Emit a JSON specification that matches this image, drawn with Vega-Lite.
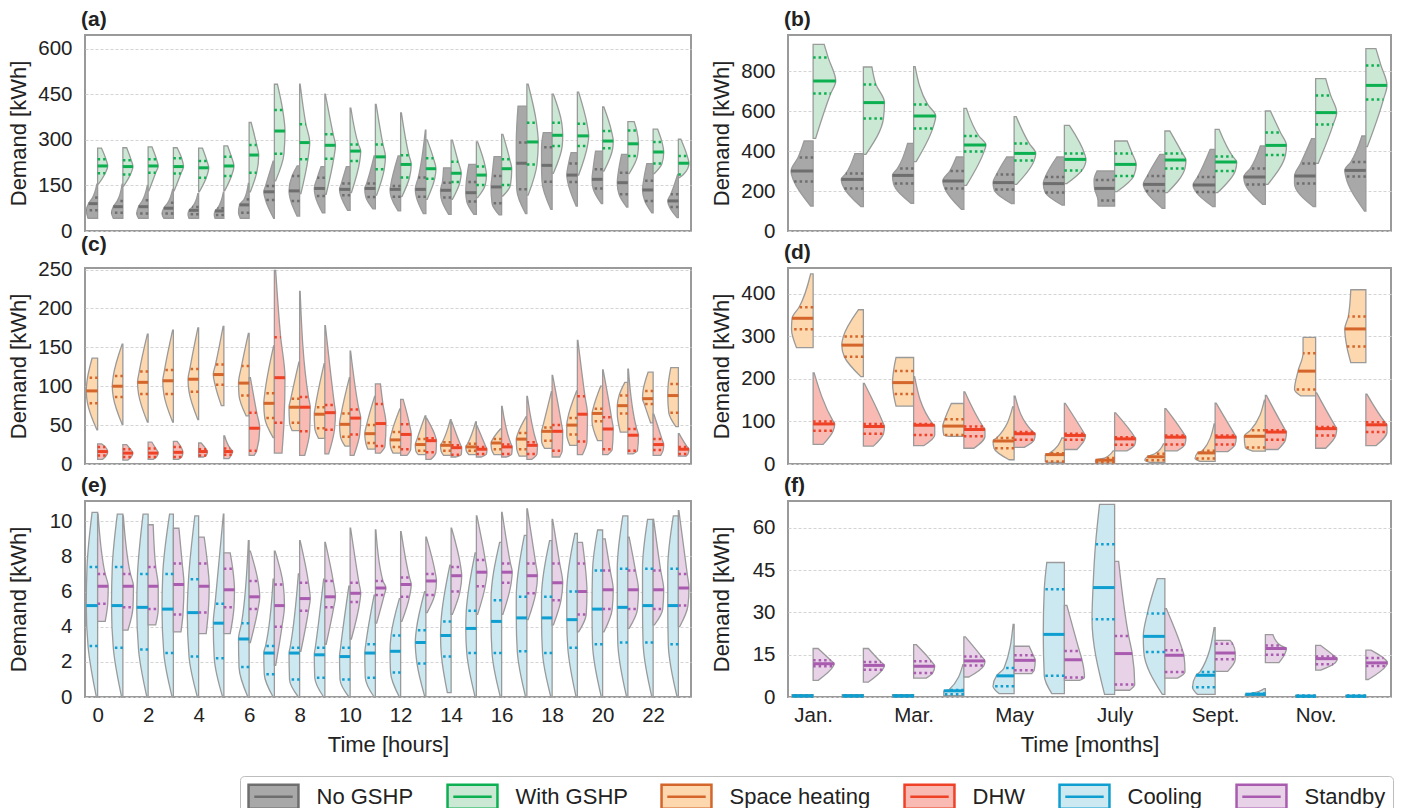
{
"$schema":"https://vega.github.io/schema/vega-lite/v6.json",
"background":"white",
"padding":{"left":5,"top":8,"right":4,"bottom":0},
"config":{
 "font":"Liberation Sans",
 "view":{"stroke":"#9a9a9a","strokeWidth":2},
 "title":{"fontSize":21,"fontWeight":"bold","anchor":"start","frame":"group","dx":-4,"offset":5,"color":"#222"},
 "axis":{"labelFontSize":20.5,"titleFontSize":22,"titleFontWeight":"normal","labelColor":"#222","titleColor":"#222","domain":false,"ticks":false,"grid":false},
 "axisY":{"grid":true,"gridColor":"#d4d4d4","gridDash":[3,2],"gridWidth":1,"labelPadding":13,"titleX":-60,"titleY":98,"titleBaseline":"alphabetic"},
 "axisX":{"labelPadding":8,"titlePadding":9,"labelAngle":0},
 "legend":{"labelFontSize":22,"labelColor":"#222","labelOffset":29.5,"columnPadding":28,"padding":7,"strokeColor":"#bdbdbd","cornerRadius":4,"symbolType":"M-2.08,-1H2.08V1H-2.08Z M-1.6,0H1.6","symbolSize":576,"symbolOffset":13,"symbolStrokeWidth":2.5,"symbolOpacity":1,"labelLimit":300}
},
"columns":2,
"bounds":"flush",
"spacing":{"row":37,"column":97},
"resolve":{"scale":{"x":"independent","y":"independent","fill":"shared","stroke":"shared"}},
"datasets":{
"a":[
{"h":0,"s":"N","k":0,"v":42,"d":0.38},{"h":0,"s":"N","k":1,"v":68,"d":0.45},{"h":0,"s":"N","k":2,"v":90,"d":0.36},{"h":0,"s":"N","k":3,"v":110,"d":0.2},{"h":0,"s":"N","k":4,"v":154,"d":0.03},
{"h":0,"s":"G","k":0,"v":154,"d":0.03},{"h":0,"s":"G","k":1,"v":190,"d":0.3},{"h":0,"s":"G","k":2,"v":214,"d":0.4},{"h":0,"s":"G","k":3,"v":236,"d":0.33},{"h":0,"s":"G","k":4,"v":273,"d":0.15},
{"h":1,"s":"N","k":0,"v":42,"d":0.38},{"h":1,"s":"N","k":1,"v":60,"d":0.45},{"h":1,"s":"N","k":2,"v":80,"d":0.38},{"h":1,"s":"N","k":3,"v":99,"d":0.22},{"h":1,"s":"N","k":4,"v":154,"d":0.03},
{"h":1,"s":"G","k":0,"v":148,"d":0.03},{"h":1,"s":"G","k":1,"v":186,"d":0.3},{"h":1,"s":"G","k":2,"v":212,"d":0.4},{"h":1,"s":"G","k":3,"v":233,"d":0.33},{"h":1,"s":"G","k":4,"v":274,"d":0.15},
{"h":2,"s":"N","k":0,"v":42,"d":0.38},{"h":2,"s":"N","k":1,"v":58,"d":0.45},{"h":2,"s":"N","k":2,"v":80,"d":0.38},{"h":2,"s":"N","k":3,"v":101,"d":0.22},{"h":2,"s":"N","k":4,"v":150,"d":0.03},
{"h":2,"s":"G","k":0,"v":132,"d":0.03},{"h":2,"s":"G","k":1,"v":192,"d":0.3},{"h":2,"s":"G","k":2,"v":214,"d":0.4},{"h":2,"s":"G","k":3,"v":236,"d":0.33},{"h":2,"s":"G","k":4,"v":277,"d":0.15},
{"h":3,"s":"N","k":0,"v":42,"d":0.38},{"h":3,"s":"N","k":1,"v":58,"d":0.45},{"h":3,"s":"N","k":2,"v":75,"d":0.38},{"h":3,"s":"N","k":3,"v":93,"d":0.22},{"h":3,"s":"N","k":4,"v":137,"d":0.03},
{"h":3,"s":"G","k":0,"v":132,"d":0.03},{"h":3,"s":"G","k":1,"v":189,"d":0.3},{"h":3,"s":"G","k":2,"v":212,"d":0.4},{"h":3,"s":"G","k":3,"v":239,"d":0.33},{"h":3,"s":"G","k":4,"v":274,"d":0.15},
{"h":4,"s":"N","k":0,"v":42,"d":0.38},{"h":4,"s":"N","k":1,"v":55,"d":0.42},{"h":4,"s":"N","k":2,"v":68,"d":0.38},{"h":4,"s":"N","k":3,"v":79,"d":0.25},{"h":4,"s":"N","k":4,"v":123,"d":0.03},
{"h":4,"s":"G","k":0,"v":129,"d":0.03},{"h":4,"s":"G","k":1,"v":175,"d":0.3},{"h":4,"s":"G","k":2,"v":208,"d":0.4},{"h":4,"s":"G","k":3,"v":230,"d":0.33},{"h":4,"s":"G","k":4,"v":273,"d":0.15},
{"h":5,"s":"N","k":0,"v":42,"d":0.35},{"h":5,"s":"N","k":1,"v":53,"d":0.38},{"h":5,"s":"N","k":2,"v":66,"d":0.35},{"h":5,"s":"N","k":3,"v":75,"d":0.25},{"h":5,"s":"N","k":4,"v":128,"d":0.02},
{"h":5,"s":"G","k":0,"v":132,"d":0.03},{"h":5,"s":"G","k":1,"v":181,"d":0.3},{"h":5,"s":"G","k":2,"v":214,"d":0.4},{"h":5,"s":"G","k":3,"v":244,"d":0.3},{"h":5,"s":"G","k":4,"v":280,"d":0.15},
{"h":6,"s":"N","k":0,"v":42,"d":0.35},{"h":6,"s":"N","k":1,"v":60,"d":0.42},{"h":6,"s":"N","k":2,"v":86,"d":0.38},{"h":6,"s":"N","k":3,"v":104,"d":0.2},{"h":6,"s":"N","k":4,"v":157,"d":0.03},
{"h":6,"s":"G","k":0,"v":129,"d":0.05},{"h":6,"s":"G","k":1,"v":192,"d":0.3},{"h":6,"s":"G","k":2,"v":250,"d":0.38},{"h":6,"s":"G","k":3,"v":283,"d":0.3},{"h":6,"s":"G","k":4,"v":357,"d":0.08},
{"h":7,"s":"N","k":0,"v":42,"d":0.03},{"h":7,"s":"N","k":1,"v":102,"d":0.35},{"h":7,"s":"N","k":2,"v":129,"d":0.42},{"h":7,"s":"N","k":3,"v":148,"d":0.35},{"h":7,"s":"N","k":4,"v":230,"d":0.05},
{"h":7,"s":"G","k":0,"v":165,"d":0.05},{"h":7,"s":"G","k":1,"v":254,"d":0.38},{"h":7,"s":"G","k":2,"v":329,"d":0.42},{"h":7,"s":"G","k":3,"v":398,"d":0.33},{"h":7,"s":"G","k":4,"v":483,"d":0.12},
{"h":8,"s":"N","k":0,"v":49,"d":0.1},{"h":8,"s":"N","k":1,"v":99,"d":0.35},{"h":8,"s":"N","k":2,"v":132,"d":0.42},{"h":8,"s":"N","k":3,"v":181,"d":0.3},{"h":8,"s":"N","k":4,"v":214,"d":0.1},
{"h":8,"s":"G","k":0,"v":123,"d":0.05},{"h":8,"s":"G","k":1,"v":236,"d":0.33},{"h":8,"s":"G","k":2,"v":291,"d":0.4},{"h":8,"s":"G","k":3,"v":351,"d":0.25},{"h":8,"s":"G","k":4,"v":483,"d":0.02},
{"h":9,"s":"N","k":0,"v":60,"d":0.1},{"h":9,"s":"N","k":1,"v":115,"d":0.38},{"h":9,"s":"N","k":2,"v":140,"d":0.42},{"h":9,"s":"N","k":3,"v":175,"d":0.3},{"h":9,"s":"N","k":4,"v":212,"d":0.15},
{"h":9,"s":"G","k":0,"v":121,"d":0.05},{"h":9,"s":"G","k":1,"v":238,"d":0.35},{"h":9,"s":"G","k":2,"v":282,"d":0.42},{"h":9,"s":"G","k":3,"v":318,"d":0.33},{"h":9,"s":"G","k":4,"v":450,"d":0.02},
{"h":10,"s":"N","k":0,"v":68,"d":0.1},{"h":10,"s":"N","k":1,"v":118,"d":0.38},{"h":10,"s":"N","k":2,"v":137,"d":0.42},{"h":10,"s":"N","k":3,"v":156,"d":0.35},{"h":10,"s":"N","k":4,"v":212,"d":0.15},
{"h":10,"s":"G","k":0,"v":126,"d":0.05},{"h":10,"s":"G","k":1,"v":230,"d":0.38},{"h":10,"s":"G","k":2,"v":263,"d":0.42},{"h":10,"s":"G","k":3,"v":285,"d":0.33},{"h":10,"s":"G","k":4,"v":404,"d":0.03},
{"h":11,"s":"N","k":0,"v":73,"d":0.1},{"h":11,"s":"N","k":1,"v":112,"d":0.38},{"h":11,"s":"N","k":2,"v":140,"d":0.42},{"h":11,"s":"N","k":3,"v":156,"d":0.35},{"h":11,"s":"N","k":4,"v":247,"d":0.05},
{"h":11,"s":"G","k":0,"v":118,"d":0.05},{"h":11,"s":"G","k":1,"v":203,"d":0.35},{"h":11,"s":"G","k":2,"v":244,"d":0.4},{"h":11,"s":"G","k":3,"v":285,"d":0.3},{"h":11,"s":"G","k":4,"v":417,"d":0.03},
{"h":12,"s":"N","k":0,"v":66,"d":0.1},{"h":12,"s":"N","k":1,"v":113,"d":0.38},{"h":12,"s":"N","k":2,"v":137,"d":0.42},{"h":12,"s":"N","k":3,"v":148,"d":0.4},{"h":12,"s":"N","k":4,"v":247,"d":0.1},
{"h":12,"s":"G","k":0,"v":113,"d":0.05},{"h":12,"s":"G","k":1,"v":176,"d":0.35},{"h":12,"s":"G","k":2,"v":219,"d":0.42},{"h":12,"s":"G","k":3,"v":249,"d":0.33},{"h":12,"s":"G","k":4,"v":389,"d":0.03},
{"h":13,"s":"N","k":0,"v":57,"d":0.1},{"h":13,"s":"N","k":1,"v":113,"d":0.38},{"h":13,"s":"N","k":2,"v":137,"d":0.42},{"h":13,"s":"N","k":3,"v":176,"d":0.3},{"h":13,"s":"N","k":4,"v":332,"d":0.02},
{"h":13,"s":"G","k":0,"v":104,"d":0.05},{"h":13,"s":"G","k":1,"v":172,"d":0.35},{"h":13,"s":"G","k":2,"v":205,"d":0.4},{"h":13,"s":"G","k":3,"v":239,"d":0.3},{"h":13,"s":"G","k":4,"v":300,"d":0.05},
{"h":14,"s":"N","k":0,"v":55,"d":0.1},{"h":14,"s":"N","k":1,"v":110,"d":0.4},{"h":14,"s":"N","k":2,"v":134,"d":0.42},{"h":14,"s":"N","k":3,"v":159,"d":0.35},{"h":14,"s":"N","k":4,"v":208,"d":0.3},
{"h":14,"s":"G","k":0,"v":104,"d":0.05},{"h":14,"s":"G","k":1,"v":161,"d":0.35},{"h":14,"s":"G","k":2,"v":190,"d":0.4},{"h":14,"s":"G","k":3,"v":228,"d":0.28},{"h":14,"s":"G","k":4,"v":299,"d":0.05},
{"h":15,"s":"N","k":0,"v":55,"d":0.1},{"h":15,"s":"N","k":1,"v":97,"d":0.38},{"h":15,"s":"N","k":2,"v":126,"d":0.42},{"h":15,"s":"N","k":3,"v":161,"d":0.4},{"h":15,"s":"N","k":4,"v":219,"d":0.3},
{"h":15,"s":"G","k":0,"v":110,"d":0.05},{"h":15,"s":"G","k":1,"v":151,"d":0.35},{"h":15,"s":"G","k":2,"v":184,"d":0.4},{"h":15,"s":"G","k":3,"v":212,"d":0.35},{"h":15,"s":"G","k":4,"v":293,"d":0.05},
{"h":16,"s":"N","k":0,"v":53,"d":0.1},{"h":16,"s":"N","k":1,"v":91,"d":0.38},{"h":16,"s":"N","k":2,"v":145,"d":0.42},{"h":16,"s":"N","k":3,"v":181,"d":0.38},{"h":16,"s":"N","k":4,"v":245,"d":0.3},
{"h":16,"s":"G","k":0,"v":115,"d":0.05},{"h":16,"s":"G","k":1,"v":151,"d":0.35},{"h":16,"s":"G","k":2,"v":205,"d":0.4},{"h":16,"s":"G","k":3,"v":236,"d":0.32},{"h":16,"s":"G","k":4,"v":318,"d":0.05},
{"h":17,"s":"N","k":0,"v":57,"d":0.05},{"h":17,"s":"N","k":1,"v":137,"d":0.4},{"h":17,"s":"N","k":2,"v":223,"d":0.42},{"h":17,"s":"N","k":3,"v":291,"d":0.42},{"h":17,"s":"N","k":4,"v":411,"d":0.35},
{"h":17,"s":"G","k":0,"v":118,"d":0.05},{"h":17,"s":"G","k":1,"v":219,"d":0.4},{"h":17,"s":"G","k":2,"v":293,"d":0.45},{"h":17,"s":"G","k":3,"v":356,"d":0.38},{"h":17,"s":"G","k":4,"v":483,"d":0.05},
{"h":18,"s":"N","k":0,"v":71,"d":0.05},{"h":18,"s":"N","k":1,"v":162,"d":0.4},{"h":18,"s":"N","k":2,"v":216,"d":0.42},{"h":18,"s":"N","k":3,"v":276,"d":0.42},{"h":18,"s":"N","k":4,"v":324,"d":0.35},
{"h":18,"s":"G","k":0,"v":190,"d":0.05},{"h":18,"s":"G","k":1,"v":280,"d":0.4},{"h":18,"s":"G","k":2,"v":315,"d":0.42},{"h":18,"s":"G","k":3,"v":356,"d":0.38},{"h":18,"s":"G","k":4,"v":450,"d":0.05},
{"h":19,"s":"N","k":0,"v":82,"d":0.05},{"h":19,"s":"N","k":1,"v":161,"d":0.38},{"h":19,"s":"N","k":2,"v":184,"d":0.42},{"h":19,"s":"N","k":3,"v":222,"d":0.35},{"h":19,"s":"N","k":4,"v":258,"d":0.25},
{"h":19,"s":"G","k":0,"v":184,"d":0.05},{"h":19,"s":"G","k":1,"v":280,"d":0.4},{"h":19,"s":"G","k":2,"v":313,"d":0.45},{"h":19,"s":"G","k":3,"v":353,"d":0.38},{"h":19,"s":"G","k":4,"v":457,"d":0.05},
{"h":20,"s":"N","k":0,"v":90,"d":0.05},{"h":20,"s":"N","k":1,"v":140,"d":0.38},{"h":20,"s":"N","k":2,"v":170,"d":0.42},{"h":20,"s":"N","k":3,"v":203,"d":0.38},{"h":20,"s":"N","k":4,"v":263,"d":0.28},
{"h":20,"s":"G","k":0,"v":197,"d":0.05},{"h":20,"s":"G","k":1,"v":272,"d":0.4},{"h":20,"s":"G","k":2,"v":296,"d":0.42},{"h":20,"s":"G","k":3,"v":329,"d":0.35},{"h":20,"s":"G","k":4,"v":408,"d":0.05},
{"h":21,"s":"N","k":0,"v":79,"d":0.05},{"h":21,"s":"N","k":1,"v":121,"d":0.35},{"h":21,"s":"N","k":2,"v":159,"d":0.42},{"h":21,"s":"N","k":3,"v":192,"d":0.38},{"h":21,"s":"N","k":4,"v":252,"d":0.25},
{"h":21,"s":"G","k":0,"v":189,"d":0.05},{"h":21,"s":"G","k":1,"v":247,"d":0.38},{"h":21,"s":"G","k":2,"v":287,"d":0.42},{"h":21,"s":"G","k":3,"v":331,"d":0.35},{"h":21,"s":"G","k":4,"v":360,"d":0.25},
{"h":22,"s":"N","k":0,"v":60,"d":0.05},{"h":22,"s":"N","k":1,"v":99,"d":0.33},{"h":22,"s":"N","k":2,"v":135,"d":0.42},{"h":22,"s":"N","k":3,"v":165,"d":0.38},{"h":22,"s":"N","k":4,"v":222,"d":0.25},
{"h":22,"s":"G","k":0,"v":189,"d":0.05},{"h":22,"s":"G","k":1,"v":222,"d":0.35},{"h":22,"s":"G","k":2,"v":260,"d":0.42},{"h":22,"s":"G","k":3,"v":293,"d":0.35},{"h":22,"s":"G","k":4,"v":335,"d":0.18},
{"h":23,"s":"N","k":0,"v":44,"d":0.05},{"h":23,"s":"N","k":1,"v":79,"d":0.35},{"h":23,"s":"N","k":2,"v":99,"d":0.42},{"h":23,"s":"N","k":3,"v":121,"d":0.3},{"h":23,"s":"N","k":4,"v":186,"d":0.03},
{"h":23,"s":"G","k":0,"v":176,"d":0.05},{"h":23,"s":"G","k":1,"v":186,"d":0.2},{"h":23,"s":"G","k":2,"v":223,"d":0.42},{"h":23,"s":"G","k":3,"v":247,"d":0.35},{"h":23,"s":"G","k":4,"v":302,"d":0.1}
],
"b":[
{"h":1,"s":"N","k":0,"v":125,"d":0.05},{"h":1,"s":"N","k":1,"v":247,"d":0.38},{"h":1,"s":"N","k":2,"v":300,"d":0.44},{"h":1,"s":"N","k":3,"v":367,"d":0.3},{"h":1,"s":"N","k":4,"v":450,"d":0.18},
{"h":1,"s":"G","k":0,"v":463,"d":0.05},{"h":1,"s":"G","k":1,"v":687,"d":0.35},{"h":1,"s":"G","k":2,"v":750,"d":0.45},{"h":1,"s":"G","k":3,"v":867,"d":0.3},{"h":1,"s":"G","k":4,"v":933,"d":0.22},
{"h":2,"s":"N","k":0,"v":122,"d":0.05},{"h":2,"s":"N","k":1,"v":213,"d":0.38},{"h":2,"s":"N","k":2,"v":258,"d":0.44},{"h":2,"s":"N","k":3,"v":287,"d":0.35},{"h":2,"s":"N","k":4,"v":387,"d":0.17},
{"h":2,"s":"G","k":0,"v":383,"d":0.05},{"h":2,"s":"G","k":1,"v":563,"d":0.4},{"h":2,"s":"G","k":2,"v":642,"d":0.42},{"h":2,"s":"G","k":3,"v":733,"d":0.25},{"h":2,"s":"G","k":4,"v":820,"d":0.17},
{"h":3,"s":"N","k":0,"v":138,"d":0.05},{"h":3,"s":"N","k":1,"v":237,"d":0.4},{"h":3,"s":"N","k":2,"v":278,"d":0.42},{"h":3,"s":"N","k":3,"v":313,"d":0.32},{"h":3,"s":"N","k":4,"v":438,"d":0.12},
{"h":3,"s":"G","k":0,"v":347,"d":0.05},{"h":3,"s":"G","k":1,"v":513,"d":0.38},{"h":3,"s":"G","k":2,"v":575,"d":0.44},{"h":3,"s":"G","k":3,"v":633,"d":0.28},{"h":3,"s":"G","k":4,"v":822,"d":0.03},
{"h":4,"s":"N","k":0,"v":108,"d":0.05},{"h":4,"s":"N","k":1,"v":213,"d":0.38},{"h":4,"s":"N","k":2,"v":250,"d":0.42},{"h":4,"s":"N","k":3,"v":300,"d":0.28},{"h":4,"s":"N","k":4,"v":370,"d":0.15},
{"h":4,"s":"G","k":0,"v":228,"d":0.05},{"h":4,"s":"G","k":1,"v":397,"d":0.4},{"h":4,"s":"G","k":2,"v":430,"d":0.44},{"h":4,"s":"G","k":3,"v":475,"d":0.3},{"h":4,"s":"G","k":4,"v":613,"d":0.05},
{"h":5,"s":"N","k":0,"v":137,"d":0.05},{"h":5,"s":"N","k":1,"v":208,"d":0.4},{"h":5,"s":"N","k":2,"v":242,"d":0.42},{"h":5,"s":"N","k":3,"v":283,"d":0.35},{"h":5,"s":"N","k":4,"v":370,"d":0.15},
{"h":5,"s":"G","k":0,"v":233,"d":0.05},{"h":5,"s":"G","k":1,"v":353,"d":0.4},{"h":5,"s":"G","k":2,"v":388,"d":0.43},{"h":5,"s":"G","k":3,"v":438,"d":0.3},{"h":5,"s":"G","k":4,"v":572,"d":0.04},
{"h":6,"s":"N","k":0,"v":130,"d":0.05},{"h":6,"s":"N","k":1,"v":192,"d":0.38},{"h":6,"s":"N","k":2,"v":237,"d":0.42},{"h":6,"s":"N","k":3,"v":270,"d":0.38},{"h":6,"s":"N","k":4,"v":370,"d":0.15},
{"h":6,"s":"G","k":0,"v":237,"d":0.05},{"h":6,"s":"G","k":1,"v":303,"d":0.35},{"h":6,"s":"G","k":2,"v":358,"d":0.43},{"h":6,"s":"G","k":3,"v":387,"d":0.4},{"h":6,"s":"G","k":4,"v":528,"d":0.1},
{"h":7,"s":"N","k":0,"v":125,"d":0.33},{"h":7,"s":"N","k":1,"v":153,"d":0.33},{"h":7,"s":"N","k":2,"v":213,"d":0.4},{"h":7,"s":"N","k":3,"v":255,"d":0.41},{"h":7,"s":"N","k":4,"v":300,"d":0.35},
{"h":7,"s":"G","k":0,"v":197,"d":0.05},{"h":7,"s":"G","k":1,"v":275,"d":0.38},{"h":7,"s":"G","k":2,"v":333,"d":0.43},{"h":7,"s":"G","k":3,"v":387,"d":0.35},{"h":7,"s":"G","k":4,"v":450,"d":0.25},
{"h":8,"s":"N","k":0,"v":113,"d":0.05},{"h":8,"s":"N","k":1,"v":200,"d":0.38},{"h":8,"s":"N","k":2,"v":233,"d":0.43},{"h":8,"s":"N","k":3,"v":275,"d":0.35},{"h":8,"s":"N","k":4,"v":383,"d":0.1},
{"h":8,"s":"G","k":0,"v":192,"d":0.05},{"h":8,"s":"G","k":1,"v":313,"d":0.4},{"h":8,"s":"G","k":2,"v":355,"d":0.42},{"h":8,"s":"G","k":3,"v":388,"d":0.35},{"h":8,"s":"G","k":4,"v":500,"d":0.1},
{"h":9,"s":"N","k":0,"v":122,"d":0.05},{"h":9,"s":"N","k":1,"v":195,"d":0.38},{"h":9,"s":"N","k":2,"v":230,"d":0.44},{"h":9,"s":"N","k":3,"v":270,"d":0.35},{"h":9,"s":"N","k":4,"v":408,"d":0.1},
{"h":9,"s":"G","k":0,"v":192,"d":0.05},{"h":9,"s":"G","k":1,"v":300,"d":0.4},{"h":9,"s":"G","k":2,"v":345,"d":0.43},{"h":9,"s":"G","k":3,"v":373,"d":0.35},{"h":9,"s":"G","k":4,"v":508,"d":0.08},
{"h":10,"s":"N","k":0,"v":133,"d":0.05},{"h":10,"s":"N","k":1,"v":233,"d":0.4},{"h":10,"s":"N","k":2,"v":270,"d":0.43},{"h":10,"s":"N","k":3,"v":313,"d":0.3},{"h":10,"s":"N","k":4,"v":425,"d":0.1},
{"h":10,"s":"G","k":0,"v":233,"d":0.05},{"h":10,"s":"G","k":1,"v":380,"d":0.4},{"h":10,"s":"G","k":2,"v":428,"d":0.42},{"h":10,"s":"G","k":3,"v":492,"d":0.3},{"h":10,"s":"G","k":4,"v":600,"d":0.1},
{"h":11,"s":"N","k":0,"v":122,"d":0.05},{"h":11,"s":"N","k":1,"v":237,"d":0.42},{"h":11,"s":"N","k":2,"v":275,"d":0.42},{"h":11,"s":"N","k":3,"v":337,"d":0.3},{"h":11,"s":"N","k":4,"v":462,"d":0.08},
{"h":11,"s":"G","k":0,"v":338,"d":0.05},{"h":11,"s":"G","k":1,"v":533,"d":0.35},{"h":11,"s":"G","k":2,"v":592,"d":0.42},{"h":11,"s":"G","k":3,"v":678,"d":0.3},{"h":11,"s":"G","k":4,"v":762,"d":0.2},
{"h":12,"s":"N","k":0,"v":100,"d":0.03},{"h":12,"s":"N","k":1,"v":272,"d":0.4},{"h":12,"s":"N","k":2,"v":303,"d":0.42},{"h":12,"s":"N","k":3,"v":345,"d":0.3},{"h":12,"s":"N","k":4,"v":475,"d":0.08},
{"h":12,"s":"G","k":0,"v":422,"d":0.03},{"h":12,"s":"G","k":1,"v":658,"d":0.35},{"h":12,"s":"G","k":2,"v":728,"d":0.42},{"h":12,"s":"G","k":3,"v":828,"d":0.3},{"h":12,"s":"G","k":4,"v":912,"d":0.2}
],
"c":[
{"h":0,"s":"S","k":0,"v":44,"d":0.03},{"h":0,"s":"S","k":1,"v":78,"d":0.4},{"h":0,"s":"S","k":2,"v":94,"d":0.45},{"h":0,"s":"S","k":3,"v":111,"d":0.4},{"h":0,"s":"S","k":4,"v":136,"d":0.22},
{"h":0,"s":"D","k":0,"v":6,"d":0.2},{"h":0,"s":"D","k":1,"v":11,"d":0.35},{"h":0,"s":"D","k":2,"v":16,"d":0.4},{"h":0,"s":"D","k":3,"v":22,"d":0.3},{"h":0,"s":"D","k":4,"v":26,"d":0.15},
{"h":1,"s":"S","k":0,"v":51,"d":0.03},{"h":1,"s":"S","k":1,"v":86,"d":0.38},{"h":1,"s":"S","k":2,"v":100,"d":0.42},{"h":1,"s":"S","k":3,"v":113,"d":0.38},{"h":1,"s":"S","k":4,"v":154,"d":0.03},
{"h":1,"s":"D","k":0,"v":5,"d":0.2},{"h":1,"s":"D","k":1,"v":9,"d":0.33},{"h":1,"s":"D","k":2,"v":14,"d":0.4},{"h":1,"s":"D","k":3,"v":19,"d":0.3},{"h":1,"s":"D","k":4,"v":25,"d":0.15},
{"h":2,"s":"S","k":0,"v":54,"d":0.03},{"h":2,"s":"S","k":1,"v":90,"d":0.38},{"h":2,"s":"S","k":2,"v":105,"d":0.42},{"h":2,"s":"S","k":3,"v":119,"d":0.35},{"h":2,"s":"S","k":4,"v":167,"d":0.03},
{"h":2,"s":"D","k":0,"v":6,"d":0.2},{"h":2,"s":"D","k":1,"v":9,"d":0.33},{"h":2,"s":"D","k":2,"v":14,"d":0.4},{"h":2,"s":"D","k":3,"v":20,"d":0.3},{"h":2,"s":"D","k":4,"v":28,"d":0.15},
{"h":3,"s":"S","k":0,"v":54,"d":0.03},{"h":3,"s":"S","k":1,"v":90,"d":0.38},{"h":3,"s":"S","k":2,"v":107,"d":0.42},{"h":3,"s":"S","k":3,"v":121,"d":0.35},{"h":3,"s":"S","k":4,"v":172,"d":0.03},
{"h":3,"s":"D","k":0,"v":6,"d":0.2},{"h":3,"s":"D","k":1,"v":9,"d":0.33},{"h":3,"s":"D","k":2,"v":15,"d":0.38},{"h":3,"s":"D","k":3,"v":22,"d":0.3},{"h":3,"s":"D","k":4,"v":29,"d":0.15},
{"h":4,"s":"S","k":0,"v":57,"d":0.03},{"h":4,"s":"S","k":1,"v":93,"d":0.38},{"h":4,"s":"S","k":2,"v":109,"d":0.42},{"h":4,"s":"S","k":3,"v":122,"d":0.35},{"h":4,"s":"S","k":4,"v":175,"d":0.03},
{"h":4,"s":"D","k":0,"v":9,"d":0.2},{"h":4,"s":"D","k":1,"v":11,"d":0.3},{"h":4,"s":"D","k":2,"v":16,"d":0.35},{"h":4,"s":"D","k":3,"v":19,"d":0.3},{"h":4,"s":"D","k":4,"v":27,"d":0.1},
{"h":5,"s":"S","k":0,"v":75,"d":0.1},{"h":5,"s":"S","k":1,"v":102,"d":0.35},{"h":5,"s":"S","k":2,"v":115,"d":0.42},{"h":5,"s":"S","k":3,"v":128,"d":0.33},{"h":5,"s":"S","k":4,"v":177,"d":0.03},
{"h":5,"s":"D","k":0,"v":7,"d":0.2},{"h":5,"s":"D","k":1,"v":12,"d":0.3},{"h":5,"s":"D","k":2,"v":16,"d":0.35},{"h":5,"s":"D","k":3,"v":20,"d":0.25},{"h":5,"s":"D","k":4,"v":36,"d":0.03},
{"h":6,"s":"S","k":0,"v":62,"d":0.12},{"h":6,"s":"S","k":1,"v":88,"d":0.4},{"h":6,"s":"S","k":2,"v":104,"d":0.42},{"h":6,"s":"S","k":3,"v":126,"d":0.3},{"h":6,"s":"S","k":4,"v":168,"d":0.03},
{"h":6,"s":"D","k":0,"v":11,"d":0.2},{"h":6,"s":"D","k":1,"v":17,"d":0.3},{"h":6,"s":"D","k":2,"v":46,"d":0.42},{"h":6,"s":"D","k":3,"v":66,"d":0.3},{"h":6,"s":"D","k":4,"v":111,"d":0.05},
{"h":7,"s":"S","k":0,"v":34,"d":0.05},{"h":7,"s":"S","k":1,"v":59,"d":0.38},{"h":7,"s":"S","k":2,"v":78,"d":0.42},{"h":7,"s":"S","k":3,"v":91,"d":0.38},{"h":7,"s":"S","k":4,"v":152,"d":0.03},
{"h":7,"s":"D","k":0,"v":14,"d":0.3},{"h":7,"s":"D","k":1,"v":53,"d":0.38},{"h":7,"s":"D","k":2,"v":111,"d":0.42},{"h":7,"s":"D","k":3,"v":163,"d":0.25},{"h":7,"s":"D","k":4,"v":249,"d":0.05},
{"h":8,"s":"S","k":0,"v":43,"d":0.3},{"h":8,"s":"S","k":1,"v":53,"d":0.4},{"h":8,"s":"S","k":2,"v":73,"d":0.42},{"h":8,"s":"S","k":3,"v":84,"d":0.35},{"h":8,"s":"S","k":4,"v":131,"d":0.03},
{"h":8,"s":"D","k":0,"v":11,"d":0.2},{"h":8,"s":"D","k":1,"v":42,"d":0.4},{"h":8,"s":"D","k":2,"v":73,"d":0.42},{"h":8,"s":"D","k":3,"v":86,"d":0.35},{"h":8,"s":"D","k":4,"v":222,"d":0.02},
{"h":9,"s":"S","k":0,"v":33,"d":0.25},{"h":9,"s":"S","k":1,"v":46,"d":0.4},{"h":9,"s":"S","k":2,"v":64,"d":0.42},{"h":9,"s":"S","k":3,"v":73,"d":0.38},{"h":9,"s":"S","k":4,"v":129,"d":0.03},
{"h":9,"s":"D","k":0,"v":13,"d":0.15},{"h":9,"s":"D","k":1,"v":44,"d":0.38},{"h":9,"s":"D","k":2,"v":66,"d":0.42},{"h":9,"s":"D","k":3,"v":76,"d":0.38},{"h":9,"s":"D","k":4,"v":178,"d":0.02},
{"h":10,"s":"S","k":0,"v":23,"d":0.2},{"h":10,"s":"S","k":1,"v":35,"d":0.38},{"h":10,"s":"S","k":2,"v":51,"d":0.42},{"h":10,"s":"S","k":3,"v":65,"d":0.35},{"h":10,"s":"S","k":4,"v":111,"d":0.03},
{"h":10,"s":"D","k":0,"v":11,"d":0.15},{"h":10,"s":"D","k":1,"v":38,"d":0.38},{"h":10,"s":"D","k":2,"v":59,"d":0.42},{"h":10,"s":"D","k":3,"v":70,"d":0.35},{"h":10,"s":"D","k":4,"v":145,"d":0.02},
{"h":11,"s":"S","k":0,"v":19,"d":0.3},{"h":11,"s":"S","k":1,"v":27,"d":0.38},{"h":11,"s":"S","k":2,"v":39,"d":0.42},{"h":11,"s":"S","k":3,"v":50,"d":0.35},{"h":11,"s":"S","k":4,"v":87,"d":0.03},
{"h":11,"s":"D","k":0,"v":14,"d":0.2},{"h":11,"s":"D","k":1,"v":23,"d":0.38},{"h":11,"s":"D","k":2,"v":52,"d":0.42},{"h":11,"s":"D","k":3,"v":77,"d":0.3},{"h":11,"s":"D","k":4,"v":103,"d":0.2},
{"h":12,"s":"S","k":0,"v":14,"d":0.3},{"h":12,"s":"S","k":1,"v":22,"d":0.4},{"h":12,"s":"S","k":2,"v":31,"d":0.42},{"h":12,"s":"S","k":3,"v":41,"d":0.35},{"h":12,"s":"S","k":4,"v":71,"d":0.03},
{"h":12,"s":"D","k":0,"v":11,"d":0.25},{"h":12,"s":"D","k":1,"v":19,"d":0.4},{"h":12,"s":"D","k":2,"v":38,"d":0.42},{"h":12,"s":"D","k":3,"v":51,"d":0.35},{"h":12,"s":"D","k":4,"v":83,"d":0.1},
{"h":13,"s":"S","k":0,"v":12,"d":0.3},{"h":13,"s":"S","k":1,"v":17,"d":0.4},{"h":13,"s":"S","k":2,"v":25,"d":0.42},{"h":13,"s":"S","k":3,"v":32,"d":0.35},{"h":13,"s":"S","k":4,"v":62,"d":0.03},
{"h":13,"s":"D","k":0,"v":6,"d":0.2},{"h":13,"s":"D","k":1,"v":15,"d":0.4},{"h":13,"s":"D","k":2,"v":30,"d":0.42},{"h":13,"s":"D","k":3,"v":33,"d":0.4},{"h":13,"s":"D","k":4,"v":59,"d":0.03},
{"h":14,"s":"S","k":0,"v":11,"d":0.3},{"h":14,"s":"S","k":1,"v":17,"d":0.4},{"h":14,"s":"S","k":2,"v":24,"d":0.42},{"h":14,"s":"S","k":3,"v":28,"d":0.35},{"h":14,"s":"S","k":4,"v":57,"d":0.03},
{"h":14,"s":"D","k":0,"v":9,"d":0.2},{"h":14,"s":"D","k":1,"v":12,"d":0.4},{"h":14,"s":"D","k":2,"v":21,"d":0.42},{"h":14,"s":"D","k":3,"v":24,"d":0.38},{"h":14,"s":"D","k":4,"v":54,"d":0.03},
{"h":15,"s":"S","k":0,"v":12,"d":0.3},{"h":15,"s":"S","k":1,"v":17,"d":0.4},{"h":15,"s":"S","k":2,"v":22,"d":0.42},{"h":15,"s":"S","k":3,"v":26,"d":0.35},{"h":15,"s":"S","k":4,"v":54,"d":0.03},
{"h":15,"s":"D","k":0,"v":9,"d":0.2},{"h":15,"s":"D","k":1,"v":13,"d":0.4},{"h":15,"s":"D","k":2,"v":19,"d":0.42},{"h":15,"s":"D","k":3,"v":22,"d":0.38},{"h":15,"s":"D","k":4,"v":49,"d":0.03},
{"h":16,"s":"S","k":0,"v":12,"d":0.3},{"h":16,"s":"S","k":1,"v":19,"d":0.4},{"h":16,"s":"S","k":2,"v":27,"d":0.42},{"h":16,"s":"S","k":3,"v":32,"d":0.35},{"h":16,"s":"S","k":4,"v":45,"d":0.05},
{"h":16,"s":"D","k":0,"v":9,"d":0.2},{"h":16,"s":"D","k":1,"v":13,"d":0.4},{"h":16,"s":"D","k":2,"v":22,"d":0.42},{"h":16,"s":"D","k":3,"v":25,"d":0.38},{"h":16,"s":"D","k":4,"v":74,"d":0.02},
{"h":17,"s":"S","k":0,"v":10,"d":0.3},{"h":17,"s":"S","k":1,"v":19,"d":0.4},{"h":17,"s":"S","k":2,"v":32,"d":0.42},{"h":17,"s":"S","k":3,"v":40,"d":0.35},{"h":17,"s":"S","k":4,"v":61,"d":0.03},
{"h":17,"s":"D","k":0,"v":6,"d":0.2},{"h":17,"s":"D","k":1,"v":13,"d":0.4},{"h":17,"s":"D","k":2,"v":24,"d":0.42},{"h":17,"s":"D","k":3,"v":28,"d":0.38},{"h":17,"s":"D","k":4,"v":87,"d":0.02},
{"h":18,"s":"S","k":0,"v":20,"d":0.3},{"h":18,"s":"S","k":1,"v":30,"d":0.42},{"h":18,"s":"S","k":2,"v":42,"d":0.42},{"h":18,"s":"S","k":3,"v":47,"d":0.38},{"h":18,"s":"S","k":4,"v":93,"d":0.03},
{"h":18,"s":"D","k":0,"v":9,"d":0.3},{"h":18,"s":"D","k":1,"v":17,"d":0.4},{"h":18,"s":"D","k":2,"v":42,"d":0.42},{"h":18,"s":"D","k":3,"v":50,"d":0.38},{"h":18,"s":"D","k":4,"v":114,"d":0.02},
{"h":19,"s":"S","k":0,"v":24,"d":0.3},{"h":19,"s":"S","k":1,"v":38,"d":0.42},{"h":19,"s":"S","k":2,"v":50,"d":0.42},{"h":19,"s":"S","k":3,"v":59,"d":0.38},{"h":19,"s":"S","k":4,"v":94,"d":0.03},
{"h":19,"s":"D","k":0,"v":12,"d":0.2},{"h":19,"s":"D","k":1,"v":29,"d":0.38},{"h":19,"s":"D","k":2,"v":64,"d":0.4},{"h":19,"s":"D","k":3,"v":87,"d":0.3},{"h":19,"s":"D","k":4,"v":159,"d":0.02},
{"h":20,"s":"S","k":0,"v":30,"d":0.2},{"h":20,"s":"S","k":1,"v":55,"d":0.42},{"h":20,"s":"S","k":2,"v":65,"d":0.42},{"h":20,"s":"S","k":3,"v":71,"d":0.38},{"h":20,"s":"S","k":4,"v":100,"d":0.08},
{"h":20,"s":"D","k":0,"v":12,"d":0.2},{"h":20,"s":"D","k":1,"v":19,"d":0.38},{"h":20,"s":"D","k":2,"v":45,"d":0.42},{"h":20,"s":"D","k":3,"v":60,"d":0.35},{"h":20,"s":"D","k":4,"v":121,"d":0.02},
{"h":21,"s":"S","k":0,"v":41,"d":0.3},{"h":21,"s":"S","k":1,"v":65,"d":0.42},{"h":21,"s":"S","k":2,"v":75,"d":0.42},{"h":21,"s":"S","k":3,"v":88,"d":0.35},{"h":21,"s":"S","k":4,"v":105,"d":0.12},
{"h":21,"s":"D","k":0,"v":13,"d":0.2},{"h":21,"s":"D","k":1,"v":17,"d":0.38},{"h":21,"s":"D","k":2,"v":37,"d":0.42},{"h":21,"s":"D","k":3,"v":45,"d":0.35},{"h":21,"s":"D","k":4,"v":122,"d":0.02},
{"h":22,"s":"S","k":0,"v":53,"d":0.1},{"h":22,"s":"S","k":1,"v":77,"d":0.35},{"h":22,"s":"S","k":2,"v":84,"d":0.42},{"h":22,"s":"S","k":3,"v":94,"d":0.4},{"h":22,"s":"S","k":4,"v":118,"d":0.2},
{"h":22,"s":"D","k":0,"v":11,"d":0.3},{"h":22,"s":"D","k":1,"v":18,"d":0.4},{"h":22,"s":"D","k":2,"v":25,"d":0.42},{"h":22,"s":"D","k":3,"v":32,"d":0.35},{"h":22,"s":"D","k":4,"v":64,"d":0.03},
{"h":23,"s":"S","k":0,"v":48,"d":0.1},{"h":23,"s":"S","k":1,"v":66,"d":0.38},{"h":23,"s":"S","k":2,"v":88,"d":0.42},{"h":23,"s":"S","k":3,"v":103,"d":0.4},{"h":23,"s":"S","k":4,"v":124,"d":0.3},
{"h":23,"s":"D","k":0,"v":10,"d":0.3},{"h":23,"s":"D","k":1,"v":13,"d":0.38},{"h":23,"s":"D","k":2,"v":19,"d":0.42},{"h":23,"s":"D","k":3,"v":22,"d":0.35},{"h":23,"s":"D","k":4,"v":39,"d":0.03}
],
"d":[
{"h":1,"s":"S","k":0,"v":273,"d":0.33},{"h":1,"s":"S","k":1,"v":316,"d":0.43},{"h":1,"s":"S","k":2,"v":342,"d":0.42},{"h":1,"s":"S","k":3,"v":368,"d":0.28},{"h":1,"s":"S","k":4,"v":446,"d":0.05},
{"h":1,"s":"D","k":0,"v":46,"d":0.2},{"h":1,"s":"D","k":1,"v":78,"d":0.4},{"h":1,"s":"D","k":2,"v":94,"d":0.43},{"h":1,"s":"D","k":3,"v":100,"d":0.4},{"h":1,"s":"D","k":4,"v":214,"d":0.02},
{"h":2,"s":"S","k":0,"v":205,"d":0.05},{"h":2,"s":"S","k":1,"v":252,"d":0.38},{"h":2,"s":"S","k":2,"v":279,"d":0.43},{"h":2,"s":"S","k":3,"v":299,"d":0.4},{"h":2,"s":"S","k":4,"v":362,"d":0.1},
{"h":2,"s":"D","k":0,"v":42,"d":0.2},{"h":2,"s":"D","k":1,"v":71,"d":0.4},{"h":2,"s":"D","k":2,"v":88,"d":0.42},{"h":2,"s":"D","k":3,"v":94,"d":0.4},{"h":2,"s":"D","k":4,"v":189,"d":0.02},
{"h":3,"s":"S","k":0,"v":136,"d":0.35},{"h":3,"s":"S","k":1,"v":164,"d":0.4},{"h":3,"s":"S","k":2,"v":191,"d":0.42},{"h":3,"s":"S","k":3,"v":218,"d":0.4},{"h":3,"s":"S","k":4,"v":250,"d":0.35},
{"h":3,"s":"D","k":0,"v":43,"d":0.2},{"h":3,"s":"D","k":1,"v":68,"d":0.42},{"h":3,"s":"D","k":2,"v":91,"d":0.42},{"h":3,"s":"D","k":3,"v":94,"d":0.38},{"h":3,"s":"D","k":4,"v":205,"d":0.02},
{"h":4,"s":"S","k":0,"v":65,"d":0.3},{"h":4,"s":"S","k":1,"v":68,"d":0.4},{"h":4,"s":"S","k":2,"v":89,"d":0.42},{"h":4,"s":"S","k":3,"v":105,"d":0.38},{"h":4,"s":"S","k":4,"v":142,"d":0.25},
{"h":4,"s":"D","k":0,"v":37,"d":0.2},{"h":4,"s":"D","k":1,"v":65,"d":0.42},{"h":4,"s":"D","k":2,"v":81,"d":0.42},{"h":4,"s":"D","k":3,"v":88,"d":0.38},{"h":4,"s":"D","k":4,"v":169,"d":0.02},
{"h":5,"s":"S","k":0,"v":10,"d":0.1},{"h":5,"s":"S","k":1,"v":37,"d":0.4},{"h":5,"s":"S","k":2,"v":54,"d":0.42},{"h":5,"s":"S","k":3,"v":61,"d":0.35},{"h":5,"s":"S","k":4,"v":134,"d":0.03},
{"h":5,"s":"D","k":0,"v":39,"d":0.2},{"h":5,"s":"D","k":1,"v":57,"d":0.4},{"h":5,"s":"D","k":2,"v":71,"d":0.42},{"h":5,"s":"D","k":3,"v":75,"d":0.38},{"h":5,"s":"D","k":4,"v":159,"d":0.02},
{"h":6,"s":"S","k":0,"v":4,"d":0.3},{"h":6,"s":"S","k":1,"v":6,"d":0.38},{"h":6,"s":"S","k":2,"v":22,"d":0.38},{"h":6,"s":"S","k":3,"v":25,"d":0.3},{"h":6,"s":"S","k":4,"v":61,"d":0.05},
{"h":6,"s":"D","k":0,"v":34,"d":0.25},{"h":6,"s":"D","k":1,"v":57,"d":0.4},{"h":6,"s":"D","k":2,"v":67,"d":0.42},{"h":6,"s":"D","k":3,"v":71,"d":0.4},{"h":6,"s":"D","k":4,"v":142,"d":0.02},
{"h":7,"s":"S","k":0,"v":2,"d":0.3},{"h":7,"s":"S","k":1,"v":4,"d":0.38},{"h":7,"s":"S","k":2,"v":9,"d":0.38},{"h":7,"s":"S","k":3,"v":14,"d":0.2},{"h":7,"s":"S","k":4,"v":31,"d":0.03},
{"h":7,"s":"D","k":0,"v":31,"d":0.25},{"h":7,"s":"D","k":1,"v":45,"d":0.4},{"h":7,"s":"D","k":2,"v":59,"d":0.42},{"h":7,"s":"D","k":3,"v":63,"d":0.4},{"h":7,"s":"D","k":4,"v":120,"d":0.02},
{"h":8,"s":"S","k":0,"v":4,"d":0.3},{"h":8,"s":"S","k":1,"v":9,"d":0.4},{"h":8,"s":"S","k":2,"v":17,"d":0.35},{"h":8,"s":"S","k":3,"v":24,"d":0.2},{"h":8,"s":"S","k":4,"v":47,"d":0.03},
{"h":8,"s":"D","k":0,"v":31,"d":0.25},{"h":8,"s":"D","k":1,"v":46,"d":0.4},{"h":8,"s":"D","k":2,"v":63,"d":0.42},{"h":8,"s":"D","k":3,"v":67,"d":0.4},{"h":8,"s":"D","k":4,"v":130,"d":0.02},
{"h":9,"s":"S","k":0,"v":6,"d":0.3},{"h":9,"s":"S","k":1,"v":13,"d":0.4},{"h":9,"s":"S","k":2,"v":26,"d":0.35},{"h":9,"s":"S","k":3,"v":31,"d":0.25},{"h":9,"s":"S","k":4,"v":94,"d":0.02},
{"h":9,"s":"D","k":0,"v":29,"d":0.25},{"h":9,"s":"D","k":1,"v":46,"d":0.4},{"h":9,"s":"D","k":2,"v":63,"d":0.42},{"h":9,"s":"D","k":3,"v":67,"d":0.4},{"h":9,"s":"D","k":4,"v":143,"d":0.02},
{"h":10,"s":"S","k":0,"v":30,"d":0.25},{"h":10,"s":"S","k":1,"v":39,"d":0.4},{"h":10,"s":"S","k":2,"v":65,"d":0.42},{"h":10,"s":"S","k":3,"v":79,"d":0.3},{"h":10,"s":"S","k":4,"v":150,"d":0.02},
{"h":10,"s":"D","k":0,"v":34,"d":0.25},{"h":10,"s":"D","k":1,"v":57,"d":0.4},{"h":10,"s":"D","k":2,"v":75,"d":0.42},{"h":10,"s":"D","k":3,"v":79,"d":0.4},{"h":10,"s":"D","k":4,"v":161,"d":0.02},
{"h":11,"s":"S","k":0,"v":160,"d":0.3},{"h":11,"s":"S","k":1,"v":175,"d":0.42},{"h":11,"s":"S","k":2,"v":218,"d":0.35},{"h":11,"s":"S","k":3,"v":260,"d":0.25},{"h":11,"s":"S","k":4,"v":297,"d":0.25},
{"h":11,"s":"D","k":0,"v":37,"d":0.2},{"h":11,"s":"D","k":1,"v":67,"d":0.4},{"h":11,"s":"D","k":2,"v":83,"d":0.42},{"h":11,"s":"D","k":3,"v":87,"d":0.4},{"h":11,"s":"D","k":4,"v":167,"d":0.02},
{"h":12,"s":"S","k":0,"v":238,"d":0.3},{"h":12,"s":"S","k":1,"v":276,"d":0.38},{"h":12,"s":"S","k":2,"v":317,"d":0.42},{"h":12,"s":"S","k":3,"v":346,"d":0.35},{"h":12,"s":"S","k":4,"v":409,"d":0.3},
{"h":12,"s":"D","k":0,"v":43,"d":0.2},{"h":12,"s":"D","k":1,"v":75,"d":0.42},{"h":12,"s":"D","k":2,"v":92,"d":0.42},{"h":12,"s":"D","k":3,"v":98,"d":0.38},{"h":12,"s":"D","k":4,"v":164,"d":0.02}
],
"e":[
{"h":0,"s":"C","k":0,"v":0,"d":0.05},{"h":0,"s":"C","k":1,"v":2.9,"d":0.38},{"h":0,"s":"C","k":2,"v":5.2,"d":0.45},{"h":0,"s":"C","k":3,"v":7.4,"d":0.42},{"h":0,"s":"C","k":4,"v":10.5,"d":0.22},
{"h":0,"s":"B","k":0,"v":4.3,"d":0.3},{"h":0,"s":"B","k":1,"v":5.3,"d":0.4},{"h":0,"s":"B","k":2,"v":6.3,"d":0.42},{"h":0,"s":"B","k":3,"v":7.0,"d":0.3},{"h":0,"s":"B","k":4,"v":10.4,"d":0.02},
{"h":1,"s":"C","k":0,"v":0,"d":0.05},{"h":1,"s":"C","k":1,"v":2.8,"d":0.38},{"h":1,"s":"C","k":2,"v":5.2,"d":0.45},{"h":1,"s":"C","k":3,"v":7.4,"d":0.42},{"h":1,"s":"C","k":4,"v":10.4,"d":0.22},
{"h":1,"s":"B","k":0,"v":3.8,"d":0.2},{"h":1,"s":"B","k":1,"v":5.1,"d":0.4},{"h":1,"s":"B","k":2,"v":6.3,"d":0.42},{"h":1,"s":"B","k":3,"v":7.0,"d":0.3},{"h":1,"s":"B","k":4,"v":10.3,"d":0.02},
{"h":2,"s":"C","k":0,"v":0,"d":0.05},{"h":2,"s":"C","k":1,"v":2.7,"d":0.38},{"h":2,"s":"C","k":2,"v":5.1,"d":0.45},{"h":2,"s":"C","k":3,"v":7.0,"d":0.42},{"h":2,"s":"C","k":4,"v":10.4,"d":0.2},
{"h":2,"s":"B","k":0,"v":4.1,"d":0.3},{"h":2,"s":"B","k":1,"v":5.0,"d":0.4},{"h":2,"s":"B","k":2,"v":6.3,"d":0.4},{"h":2,"s":"B","k":3,"v":7.4,"d":0.3},{"h":2,"s":"B","k":4,"v":9.8,"d":0.2},
{"h":3,"s":"C","k":0,"v":0,"d":0.05},{"h":3,"s":"C","k":1,"v":2.5,"d":0.38},{"h":3,"s":"C","k":2,"v":5.0,"d":0.45},{"h":3,"s":"C","k":3,"v":7.0,"d":0.42},{"h":3,"s":"C","k":4,"v":10.4,"d":0.15},
{"h":3,"s":"B","k":0,"v":3.7,"d":0.3},{"h":3,"s":"B","k":1,"v":4.7,"d":0.38},{"h":3,"s":"B","k":2,"v":6.4,"d":0.42},{"h":3,"s":"B","k":3,"v":7.6,"d":0.35},{"h":3,"s":"B","k":4,"v":9.6,"d":0.22},
{"h":4,"s":"C","k":0,"v":0,"d":0.05},{"h":4,"s":"C","k":1,"v":2.3,"d":0.38},{"h":4,"s":"C","k":2,"v":4.8,"d":0.45},{"h":4,"s":"C","k":3,"v":6.7,"d":0.4},{"h":4,"s":"C","k":4,"v":10.3,"d":0.15},
{"h":4,"s":"B","k":0,"v":3.6,"d":0.3},{"h":4,"s":"B","k":1,"v":4.8,"d":0.38},{"h":4,"s":"B","k":2,"v":6.3,"d":0.42},{"h":4,"s":"B","k":3,"v":7.6,"d":0.35},{"h":4,"s":"B","k":4,"v":9.1,"d":0.22},
{"h":5,"s":"C","k":0,"v":0,"d":0.05},{"h":5,"s":"C","k":1,"v":2.2,"d":0.38},{"h":5,"s":"C","k":2,"v":4.2,"d":0.42},{"h":5,"s":"C","k":3,"v":5.3,"d":0.35},{"h":5,"s":"C","k":4,"v":10.4,"d":0.02},
{"h":5,"s":"B","k":0,"v":3.6,"d":0.25},{"h":5,"s":"B","k":1,"v":5.1,"d":0.4},{"h":5,"s":"B","k":2,"v":6.1,"d":0.42},{"h":5,"s":"B","k":3,"v":7.3,"d":0.35},{"h":5,"s":"B","k":4,"v":8.2,"d":0.25},
{"h":6,"s":"C","k":0,"v":0,"d":0.05},{"h":6,"s":"C","k":1,"v":1.7,"d":0.4},{"h":6,"s":"C","k":2,"v":3.3,"d":0.42},{"h":6,"s":"C","k":3,"v":4.2,"d":0.3},{"h":6,"s":"C","k":4,"v":8.9,"d":0.03},
{"h":6,"s":"B","k":0,"v":3.1,"d":0.05},{"h":6,"s":"B","k":1,"v":5.0,"d":0.35},{"h":6,"s":"B","k":2,"v":5.7,"d":0.42},{"h":6,"s":"B","k":3,"v":6.6,"d":0.35},{"h":6,"s":"B","k":4,"v":8.3,"d":0.05},
{"h":7,"s":"C","k":0,"v":0,"d":0.05},{"h":7,"s":"C","k":1,"v":1.3,"d":0.4},{"h":7,"s":"C","k":2,"v":2.5,"d":0.42},{"h":7,"s":"C","k":3,"v":2.9,"d":0.35},{"h":7,"s":"C","k":4,"v":6.7,"d":0.05},
{"h":7,"s":"B","k":0,"v":1.8,"d":0.05},{"h":7,"s":"B","k":1,"v":4.0,"d":0.3},{"h":7,"s":"B","k":2,"v":5.2,"d":0.4},{"h":7,"s":"B","k":3,"v":6.4,"d":0.35},{"h":7,"s":"B","k":4,"v":8.3,"d":0.03},
{"h":8,"s":"C","k":0,"v":0,"d":0.05},{"h":8,"s":"C","k":1,"v":1.0,"d":0.4},{"h":8,"s":"C","k":2,"v":2.5,"d":0.42},{"h":8,"s":"C","k":3,"v":2.8,"d":0.38},{"h":8,"s":"C","k":4,"v":7.0,"d":0.05},
{"h":8,"s":"B","k":0,"v":2.6,"d":0.05},{"h":8,"s":"B","k":1,"v":4.9,"d":0.35},{"h":8,"s":"B","k":2,"v":5.6,"d":0.42},{"h":8,"s":"B","k":3,"v":6.5,"d":0.35},{"h":8,"s":"B","k":4,"v":8.9,"d":0.02},
{"h":9,"s":"C","k":0,"v":0,"d":0.05},{"h":9,"s":"C","k":1,"v":1.1,"d":0.4},{"h":9,"s":"C","k":2,"v":2.4,"d":0.42},{"h":9,"s":"C","k":3,"v":2.8,"d":0.38},{"h":9,"s":"C","k":4,"v":6.7,"d":0.05},
{"h":9,"s":"B","k":0,"v":3.0,"d":0.05},{"h":9,"s":"B","k":1,"v":5.1,"d":0.35},{"h":9,"s":"B","k":2,"v":5.7,"d":0.42},{"h":9,"s":"B","k":3,"v":6.6,"d":0.33},{"h":9,"s":"B","k":4,"v":8.8,"d":0.02},
{"h":10,"s":"C","k":0,"v":0,"d":0.05},{"h":10,"s":"C","k":1,"v":1.0,"d":0.4},{"h":10,"s":"C","k":2,"v":2.3,"d":0.42},{"h":10,"s":"C","k":3,"v":2.8,"d":0.38},{"h":10,"s":"C","k":4,"v":6.3,"d":0.05},
{"h":10,"s":"B","k":0,"v":3.3,"d":0.05},{"h":10,"s":"B","k":1,"v":5.4,"d":0.38},{"h":10,"s":"B","k":2,"v":5.9,"d":0.42},{"h":10,"s":"B","k":3,"v":6.5,"d":0.35},{"h":10,"s":"B","k":4,"v":9.6,"d":0.02},
{"h":11,"s":"C","k":0,"v":0,"d":0.05},{"h":11,"s":"C","k":1,"v":1.1,"d":0.4},{"h":11,"s":"C","k":2,"v":2.5,"d":0.42},{"h":11,"s":"C","k":3,"v":3.0,"d":0.38},{"h":11,"s":"C","k":4,"v":5.8,"d":0.05},
{"h":11,"s":"B","k":0,"v":4.2,"d":0.05},{"h":11,"s":"B","k":1,"v":5.8,"d":0.35},{"h":11,"s":"B","k":2,"v":6.2,"d":0.42},{"h":11,"s":"B","k":3,"v":6.6,"d":0.3},{"h":11,"s":"B","k":4,"v":9.5,"d":0.02},
{"h":12,"s":"C","k":0,"v":0,"d":0.05},{"h":12,"s":"C","k":1,"v":1.4,"d":0.4},{"h":12,"s":"C","k":2,"v":2.6,"d":0.42},{"h":12,"s":"C","k":3,"v":3.5,"d":0.38},{"h":12,"s":"C","k":4,"v":5.6,"d":0.05},
{"h":12,"s":"B","k":0,"v":4.3,"d":0.05},{"h":12,"s":"B","k":1,"v":5.7,"d":0.35},{"h":12,"s":"B","k":2,"v":6.4,"d":0.42},{"h":12,"s":"B","k":3,"v":6.8,"d":0.35},{"h":12,"s":"B","k":4,"v":9.4,"d":0.02},
{"h":13,"s":"C","k":0,"v":0.05,"d":0.05},{"h":13,"s":"C","k":1,"v":1.9,"d":0.35},{"h":13,"s":"C","k":2,"v":3.1,"d":0.42},{"h":13,"s":"C","k":3,"v":3.8,"d":0.38},{"h":13,"s":"C","k":4,"v":6.0,"d":0.05},
{"h":13,"s":"B","k":0,"v":4.8,"d":0.05},{"h":13,"s":"B","k":1,"v":5.8,"d":0.35},{"h":13,"s":"B","k":2,"v":6.6,"d":0.42},{"h":13,"s":"B","k":3,"v":7.0,"d":0.38},{"h":13,"s":"B","k":4,"v":9.1,"d":0.02},
{"h":14,"s":"C","k":0,"v":0.25,"d":0.15},{"h":14,"s":"C","k":1,"v":2.3,"d":0.38},{"h":14,"s":"C","k":2,"v":3.5,"d":0.42},{"h":14,"s":"C","k":3,"v":4.3,"d":0.4},{"h":14,"s":"C","k":4,"v":7.5,"d":0.05},
{"h":14,"s":"B","k":0,"v":4.7,"d":0.05},{"h":14,"s":"B","k":1,"v":6.0,"d":0.35},{"h":14,"s":"B","k":2,"v":6.9,"d":0.42},{"h":14,"s":"B","k":3,"v":7.4,"d":0.38},{"h":14,"s":"B","k":4,"v":9.6,"d":0.02},
{"h":15,"s":"C","k":0,"v":0,"d":0.05},{"h":15,"s":"C","k":1,"v":2.5,"d":0.38},{"h":15,"s":"C","k":2,"v":3.9,"d":0.42},{"h":15,"s":"C","k":3,"v":4.9,"d":0.4},{"h":15,"s":"C","k":4,"v":8.2,"d":0.05},
{"h":15,"s":"B","k":0,"v":4.7,"d":0.05},{"h":15,"s":"B","k":1,"v":6.3,"d":0.35},{"h":15,"s":"B","k":2,"v":7.1,"d":0.42},{"h":15,"s":"B","k":3,"v":7.8,"d":0.35},{"h":15,"s":"B","k":4,"v":10.3,"d":0.02},
{"h":16,"s":"C","k":0,"v":0,"d":0.05},{"h":16,"s":"C","k":1,"v":2.5,"d":0.38},{"h":16,"s":"C","k":2,"v":4.3,"d":0.42},{"h":16,"s":"C","k":3,"v":5.5,"d":0.42},{"h":16,"s":"C","k":4,"v":8.8,"d":0.08},
{"h":16,"s":"B","k":0,"v":4.7,"d":0.05},{"h":16,"s":"B","k":1,"v":6.5,"d":0.38},{"h":16,"s":"B","k":2,"v":7.1,"d":0.42},{"h":16,"s":"B","k":3,"v":7.6,"d":0.35},{"h":16,"s":"B","k":4,"v":10.5,"d":0.02},
{"h":17,"s":"C","k":0,"v":0,"d":0.05},{"h":17,"s":"C","k":1,"v":2.6,"d":0.38},{"h":17,"s":"C","k":2,"v":4.5,"d":0.42},{"h":17,"s":"C","k":3,"v":5.7,"d":0.42},{"h":17,"s":"C","k":4,"v":9.2,"d":0.1},
{"h":17,"s":"B","k":0,"v":4.4,"d":0.05},{"h":17,"s":"B","k":1,"v":5.9,"d":0.35},{"h":17,"s":"B","k":2,"v":6.9,"d":0.42},{"h":17,"s":"B","k":3,"v":7.6,"d":0.35},{"h":17,"s":"B","k":4,"v":10.7,"d":0.02},
{"h":18,"s":"C","k":0,"v":0,"d":0.05},{"h":18,"s":"C","k":1,"v":2.5,"d":0.38},{"h":18,"s":"C","k":2,"v":4.5,"d":0.42},{"h":18,"s":"C","k":3,"v":5.7,"d":0.42},{"h":18,"s":"C","k":4,"v":8.9,"d":0.1},
{"h":18,"s":"B","k":0,"v":4.1,"d":0.05},{"h":18,"s":"B","k":1,"v":5.5,"d":0.35},{"h":18,"s":"B","k":2,"v":6.5,"d":0.42},{"h":18,"s":"B","k":3,"v":7.6,"d":0.3},{"h":18,"s":"B","k":4,"v":10.1,"d":0.02},
{"h":19,"s":"C","k":0,"v":0,"d":0.05},{"h":19,"s":"C","k":1,"v":2.8,"d":0.38},{"h":19,"s":"C","k":2,"v":4.4,"d":0.42},{"h":19,"s":"C","k":3,"v":6.0,"d":0.42},{"h":19,"s":"C","k":4,"v":9.3,"d":0.1},
{"h":19,"s":"B","k":0,"v":3.7,"d":0.05},{"h":19,"s":"B","k":1,"v":4.7,"d":0.35},{"h":19,"s":"B","k":2,"v":6.0,"d":0.38},{"h":19,"s":"B","k":3,"v":7.6,"d":0.3},{"h":19,"s":"B","k":4,"v":8.8,"d":0.2},
{"h":20,"s":"C","k":0,"v":0,"d":0.05},{"h":20,"s":"C","k":1,"v":3.0,"d":0.4},{"h":20,"s":"C","k":2,"v":5.0,"d":0.42},{"h":20,"s":"C","k":3,"v":7.2,"d":0.4},{"h":20,"s":"C","k":4,"v":9.5,"d":0.2},
{"h":20,"s":"B","k":0,"v":3.7,"d":0.05},{"h":20,"s":"B","k":1,"v":5.0,"d":0.38},{"h":20,"s":"B","k":2,"v":6.1,"d":0.42},{"h":20,"s":"B","k":3,"v":7.2,"d":0.3},{"h":20,"s":"B","k":4,"v":9.0,"d":0.1},
{"h":21,"s":"C","k":0,"v":0,"d":0.05},{"h":21,"s":"C","k":1,"v":3.1,"d":0.4},{"h":21,"s":"C","k":2,"v":5.1,"d":0.42},{"h":21,"s":"C","k":3,"v":7.3,"d":0.42},{"h":21,"s":"C","k":4,"v":10.3,"d":0.2},
{"h":21,"s":"B","k":0,"v":3.9,"d":0.05},{"h":21,"s":"B","k":1,"v":5.0,"d":0.38},{"h":21,"s":"B","k":2,"v":6.1,"d":0.42},{"h":21,"s":"B","k":3,"v":7.2,"d":0.3},{"h":21,"s":"B","k":4,"v":9.1,"d":0.05},
{"h":22,"s":"C","k":0,"v":0,"d":0.05},{"h":22,"s":"C","k":1,"v":3.1,"d":0.4},{"h":22,"s":"C","k":2,"v":5.2,"d":0.42},{"h":22,"s":"C","k":3,"v":7.3,"d":0.42},{"h":22,"s":"C","k":4,"v":10.1,"d":0.22},
{"h":22,"s":"B","k":0,"v":4.1,"d":0.05},{"h":22,"s":"B","k":1,"v":5.0,"d":0.38},{"h":22,"s":"B","k":2,"v":6.1,"d":0.42},{"h":22,"s":"B","k":3,"v":7.2,"d":0.3},{"h":22,"s":"B","k":4,"v":10.1,"d":0.02},
{"h":23,"s":"C","k":0,"v":0,"d":0.05},{"h":23,"s":"C","k":1,"v":3.0,"d":0.4},{"h":23,"s":"C","k":2,"v":5.2,"d":0.42},{"h":23,"s":"C","k":3,"v":7.3,"d":0.42},{"h":23,"s":"C","k":4,"v":10.3,"d":0.2},
{"h":23,"s":"B","k":0,"v":4.0,"d":0.05},{"h":23,"s":"B","k":1,"v":5.2,"d":0.38},{"h":23,"s":"B","k":2,"v":6.2,"d":0.42},{"h":23,"s":"B","k":3,"v":7.0,"d":0.35},{"h":23,"s":"B","k":4,"v":10.6,"d":0.02}
],
"f":[
{"h":1,"s":"C","k":0,"v":0,"d":0.42},{"h":1,"s":"C","k":1,"v":0.2,"d":0.42},{"h":1,"s":"C","k":2,"v":0.4,"d":0.42},{"h":1,"s":"C","k":3,"v":0.6,"d":0.42},{"h":1,"s":"C","k":4,"v":0.8,"d":0.42},
{"h":1,"s":"B","k":0,"v":5.9,"d":0.1},{"h":1,"s":"B","k":1,"v":10.9,"d":0.4},{"h":1,"s":"B","k":2,"v":11.8,"d":0.42},{"h":1,"s":"B","k":3,"v":13.0,"d":0.35},{"h":1,"s":"B","k":4,"v":17.2,"d":0.1},
{"h":2,"s":"C","k":0,"v":0,"d":0.42},{"h":2,"s":"C","k":1,"v":0.2,"d":0.42},{"h":2,"s":"C","k":2,"v":0.4,"d":0.42},{"h":2,"s":"C","k":3,"v":0.6,"d":0.42},{"h":2,"s":"C","k":4,"v":0.8,"d":0.42},
{"h":2,"s":"B","k":0,"v":5.3,"d":0.1},{"h":2,"s":"B","k":1,"v":9.7,"d":0.38},{"h":2,"s":"B","k":2,"v":11.2,"d":0.42},{"h":2,"s":"B","k":3,"v":12.4,"d":0.35},{"h":2,"s":"B","k":4,"v":17.2,"d":0.1},
{"h":3,"s":"C","k":0,"v":0,"d":0.42},{"h":3,"s":"C","k":1,"v":0.2,"d":0.42},{"h":3,"s":"C","k":2,"v":0.4,"d":0.42},{"h":3,"s":"C","k":3,"v":0.6,"d":0.42},{"h":3,"s":"C","k":4,"v":0.8,"d":0.42},
{"h":3,"s":"B","k":0,"v":6.7,"d":0.25},{"h":3,"s":"B","k":1,"v":8.5,"d":0.38},{"h":3,"s":"B","k":2,"v":10.9,"d":0.42},{"h":3,"s":"B","k":3,"v":12.7,"d":0.35},{"h":3,"s":"B","k":4,"v":18.6,"d":0.05},
{"h":4,"s":"C","k":0,"v":0.5,"d":0.4},{"h":4,"s":"C","k":1,"v":1.0,"d":0.4},{"h":4,"s":"C","k":2,"v":2.2,"d":0.4},{"h":4,"s":"C","k":3,"v":2.5,"d":0.3},{"h":4,"s":"C","k":4,"v":11.5,"d":0.02},
{"h":4,"s":"B","k":0,"v":7.1,"d":0.1},{"h":4,"s":"B","k":1,"v":11.2,"d":0.4},{"h":4,"s":"B","k":2,"v":12.8,"d":0.42},{"h":4,"s":"B","k":3,"v":14.4,"d":0.35},{"h":4,"s":"B","k":4,"v":21.3,"d":0.03},
{"h":5,"s":"C","k":0,"v":1.2,"d":0.3},{"h":5,"s":"C","k":1,"v":3.8,"d":0.42},{"h":5,"s":"C","k":2,"v":7.5,"d":0.35},{"h":5,"s":"C","k":3,"v":10.3,"d":0.2},{"h":5,"s":"C","k":4,"v":25.7,"d":0.02},
{"h":5,"s":"B","k":0,"v":8.3,"d":0.35},{"h":5,"s":"B","k":1,"v":9.5,"d":0.4},{"h":5,"s":"B","k":2,"v":13.0,"d":0.42},{"h":5,"s":"B","k":3,"v":14.8,"d":0.38},{"h":5,"s":"B","k":4,"v":18.0,"d":0.3},
{"h":6,"s":"C","k":0,"v":1.2,"d":0.25},{"h":6,"s":"C","k":1,"v":7.5,"d":0.4},{"h":6,"s":"C","k":2,"v":22.2,"d":0.42},{"h":6,"s":"C","k":3,"v":38.2,"d":0.4},{"h":6,"s":"C","k":4,"v":47.7,"d":0.35},
{"h":6,"s":"B","k":0,"v":5.9,"d":0.3},{"h":6,"s":"B","k":1,"v":6.9,"d":0.4},{"h":6,"s":"B","k":2,"v":13.2,"d":0.35},{"h":6,"s":"B","k":3,"v":16.3,"d":0.3},{"h":6,"s":"B","k":4,"v":32.5,"d":0.05},
{"h":7,"s":"C","k":0,"v":0.9,"d":0.2},{"h":7,"s":"C","k":1,"v":27.6,"d":0.45},{"h":7,"s":"C","k":2,"v":38.8,"d":0.43},{"h":7,"s":"C","k":3,"v":54.2,"d":0.38},{"h":7,"s":"C","k":4,"v":68.3,"d":0.3},
{"h":7,"s":"B","k":0,"v":2.4,"d":0.3},{"h":7,"s":"B","k":1,"v":4.4,"d":0.4},{"h":7,"s":"B","k":2,"v":15.4,"d":0.35},{"h":7,"s":"B","k":3,"v":21.6,"d":0.28},{"h":7,"s":"B","k":4,"v":48.1,"d":0.08},
{"h":8,"s":"C","k":0,"v":0.9,"d":0.05},{"h":8,"s":"C","k":1,"v":16.0,"d":0.42},{"h":8,"s":"C","k":2,"v":21.5,"d":0.43},{"h":8,"s":"C","k":3,"v":29.6,"d":0.35},{"h":8,"s":"C","k":4,"v":42.0,"d":0.15},
{"h":8,"s":"B","k":0,"v":6.7,"d":0.25},{"h":8,"s":"B","k":1,"v":8.9,"d":0.4},{"h":8,"s":"B","k":2,"v":14.8,"d":0.38},{"h":8,"s":"B","k":3,"v":16.6,"d":0.35},{"h":8,"s":"B","k":4,"v":31.3,"d":0.03},
{"h":9,"s":"C","k":0,"v":0.9,"d":0.35},{"h":9,"s":"C","k":1,"v":3.5,"d":0.45},{"h":9,"s":"C","k":2,"v":7.7,"d":0.38},{"h":9,"s":"C","k":3,"v":8.9,"d":0.3},{"h":9,"s":"C","k":4,"v":24.6,"d":0.02},
{"h":9,"s":"B","k":0,"v":9.1,"d":0.25},{"h":9,"s":"B","k":1,"v":13.4,"d":0.4},{"h":9,"s":"B","k":2,"v":15.6,"d":0.4},{"h":9,"s":"B","k":3,"v":18.9,"d":0.35},{"h":9,"s":"B","k":4,"v":20.1,"d":0.3},
{"h":10,"s":"C","k":0,"v":0.5,"d":0.4},{"h":10,"s":"C","k":1,"v":0.8,"d":0.4},{"h":10,"s":"C","k":2,"v":1.0,"d":0.4},{"h":10,"s":"C","k":3,"v":1.2,"d":0.3},{"h":10,"s":"C","k":4,"v":3.0,"d":0.02},
{"h":10,"s":"B","k":0,"v":12.2,"d":0.27},{"h":10,"s":"B","k":1,"v":15.0,"d":0.38},{"h":10,"s":"B","k":2,"v":17.2,"d":0.42},{"h":10,"s":"B","k":3,"v":18.3,"d":0.3},{"h":10,"s":"B","k":4,"v":22.1,"d":0.15},
{"h":11,"s":"C","k":0,"v":0,"d":0.4},{"h":11,"s":"C","k":1,"v":0.1,"d":0.4},{"h":11,"s":"C","k":2,"v":0.3,"d":0.4},{"h":11,"s":"C","k":3,"v":0.5,"d":0.4},{"h":11,"s":"C","k":4,"v":0.6,"d":0.4},
{"h":11,"s":"B","k":0,"v":9.5,"d":0.1},{"h":11,"s":"B","k":1,"v":11.6,"d":0.35},{"h":11,"s":"B","k":2,"v":13.6,"d":0.43},{"h":11,"s":"B","k":3,"v":14.4,"d":0.38},{"h":11,"s":"B","k":4,"v":18.3,"d":0.1},
{"h":12,"s":"C","k":0,"v":0,"d":0.4},{"h":12,"s":"C","k":1,"v":0.1,"d":0.4},{"h":12,"s":"C","k":2,"v":0.3,"d":0.4},{"h":12,"s":"C","k":3,"v":0.5,"d":0.4},{"h":12,"s":"C","k":4,"v":0.6,"d":0.4},
{"h":12,"s":"B","k":0,"v":6.2,"d":0.05},{"h":12,"s":"B","k":1,"v":11.0,"d":0.4},{"h":12,"s":"B","k":2,"v":12.1,"d":0.43},{"h":12,"s":"B","k":3,"v":13.8,"d":0.35},{"h":12,"s":"B","k":4,"v":16.6,"d":0.1}
]
},
"concat":[
{"title":"(a)","width":606,"height":196,"data":{"name":"a"},
 "transform":[{"lookup":"s","from":{"data":{"values":[{"s":"N","n":"No GSHP","side":-1},{"s":"G","n":"With GSHP","side":1},{"s":"S","n":"Space heating","side":-1},{"s":"D","n":"DHW","side":1},{"s":"C","n":"Cooling","side":-1},{"s":"B","n":"Standby","side":1}]},"key":"s","fields":["n","side"]}},{"calculate":"datum.h+datum.side*datum.d","as":"e"}],
 "encoding":{"y":{"field":"v","type":"quantitative","title":"Demand [kWh]","scale":{"domain":[0,645],"nice":false,"zero":false},"axis":{"values":[0,150,300,450,600]}}},
 "layer":[
  {"mark":{"type":"area","orient":"horizontal","interpolate":"monotone","stroke":"#9a9a9a","strokeWidth":1.3},
   "encoding":{"x":{"field":"e","type":"quantitative","stack":null,"scale":{"domain":[-0.5,23.5],"nice":false,"zero":false},"axis":null},"x2":{"field":"h"},"detail":{"field":"h"},
    "fill":{"field":"n","type":"nominal","scale":{"domain":["No GSHP","With GSHP","Space heating","DHW","Cooling","Standby"],"range":["#a8a8a8","#cbe8d4","#fdd8ae","#f9bab4","#cce9f2","#e7d2e7"]},"legend":{"title":null,"orient":"none","legendX":155,"legendY":741,"direction":"horizontal"}}}},
  {"transform":[{"filter":"datum.k==2"}],"mark":{"type":"rule","strokeWidth":3},
   "encoding":{"x":{"field":"h","type":"quantitative","scale":{"domain":[-0.5,23.5],"nice":false,"zero":false},"axis":null},"x2":{"field":"e"},
    "stroke":{"field":"n","type":"nominal","scale":{"domain":["No GSHP","With GSHP","Space heating","DHW","Cooling","Standby"],"range":["#6e6e6e","#0db050","#d4652b","#ee4126","#0e9ed0","#a95caf"]},"legend":{"title":null,"orient":"none","legendX":155,"legendY":741,"direction":"horizontal"}}}},
  {"transform":[{"filter":"datum.k==1||datum.k==3"}],"mark":{"type":"rule","strokeWidth":2.5,"strokeDash":[2.5,3]},
   "encoding":{"x":{"field":"h","type":"quantitative","scale":{"domain":[-0.5,23.5],"nice":false,"zero":false},"axis":null},"x2":{"field":"e"},
    "stroke":{"field":"n","type":"nominal","scale":{"domain":["No GSHP","With GSHP","Space heating","DHW","Cooling","Standby"],"range":["#6e6e6e","#0db050","#d4652b","#ee4126","#0e9ed0","#a95caf"]},"legend":{"title":null,"orient":"none","legendX":155,"legendY":741,"direction":"horizontal"}}}}
 ]},
{"title":"(b)","width":603,"height":196,"data":{"name":"b"},
 "transform":[{"lookup":"s","from":{"data":{"values":[{"s":"N","n":"No GSHP","side":-1},{"s":"G","n":"With GSHP","side":1},{"s":"S","n":"Space heating","side":-1},{"s":"D","n":"DHW","side":1},{"s":"C","n":"Cooling","side":-1},{"s":"B","n":"Standby","side":1}]},"key":"s","fields":["n","side"]}},{"calculate":"datum.h+datum.side*datum.d","as":"e"}],
 "encoding":{"y":{"field":"v","type":"quantitative","title":"Demand [kWh]","scale":{"domain":[0,980],"nice":false,"zero":false},"axis":{"values":[0,200,400,600,800]}}},
 "layer":[
  {"mark":{"type":"area","orient":"horizontal","interpolate":"monotone","stroke":"#9a9a9a","strokeWidth":1.3},
   "encoding":{"x":{"field":"e","type":"quantitative","stack":null,"scale":{"domain":[0.5,12.5],"nice":false,"zero":false},"axis":null},"x2":{"field":"h"},"detail":{"field":"h"},
    "fill":{"field":"n","type":"nominal","scale":{"domain":["No GSHP","With GSHP","Space heating","DHW","Cooling","Standby"],"range":["#a8a8a8","#cbe8d4","#fdd8ae","#f9bab4","#cce9f2","#e7d2e7"]}}}},
  {"transform":[{"filter":"datum.k==2"}],"mark":{"type":"rule","strokeWidth":3},
   "encoding":{"x":{"field":"h","type":"quantitative","scale":{"domain":[0.5,12.5],"nice":false,"zero":false},"axis":null},"x2":{"field":"e"},
    "stroke":{"field":"n","type":"nominal","scale":{"domain":["No GSHP","With GSHP","Space heating","DHW","Cooling","Standby"],"range":["#6e6e6e","#0db050","#d4652b","#ee4126","#0e9ed0","#a95caf"]}}}},
  {"transform":[{"filter":"datum.k==1||datum.k==3"}],"mark":{"type":"rule","strokeWidth":2.5,"strokeDash":[2.5,3]},
   "encoding":{"x":{"field":"h","type":"quantitative","scale":{"domain":[0.5,12.5],"nice":false,"zero":false},"axis":null},"x2":{"field":"e"},
    "stroke":{"field":"n","type":"nominal","scale":{"domain":["No GSHP","With GSHP","Space heating","DHW","Cooling","Standby"],"range":["#6e6e6e","#0db050","#d4652b","#ee4126","#0e9ed0","#a95caf"]}}}}
 ]},
{"title":"(c)","width":606,"height":196,"data":{"name":"c"},
 "transform":[{"lookup":"s","from":{"data":{"values":[{"s":"N","n":"No GSHP","side":-1},{"s":"G","n":"With GSHP","side":1},{"s":"S","n":"Space heating","side":-1},{"s":"D","n":"DHW","side":1},{"s":"C","n":"Cooling","side":-1},{"s":"B","n":"Standby","side":1}]},"key":"s","fields":["n","side"]}},{"calculate":"datum.h+datum.side*datum.d","as":"e"}],
 "encoding":{"y":{"field":"v","type":"quantitative","title":"Demand [kWh]","scale":{"domain":[0,252],"nice":false,"zero":false},"axis":{"values":[0,50,100,150,200,250]}}},
 "layer":[
  {"mark":{"type":"area","orient":"horizontal","interpolate":"monotone","stroke":"#9a9a9a","strokeWidth":1.3},
   "encoding":{"x":{"field":"e","type":"quantitative","stack":null,"scale":{"domain":[-0.5,23.5],"nice":false,"zero":false},"axis":null},"x2":{"field":"h"},"detail":{"field":"h"},
    "fill":{"field":"n","type":"nominal","scale":{"domain":["No GSHP","With GSHP","Space heating","DHW","Cooling","Standby"],"range":["#a8a8a8","#cbe8d4","#fdd8ae","#f9bab4","#cce9f2","#e7d2e7"]}}}},
  {"transform":[{"filter":"datum.k==2"}],"mark":{"type":"rule","strokeWidth":3},
   "encoding":{"x":{"field":"h","type":"quantitative","scale":{"domain":[-0.5,23.5],"nice":false,"zero":false},"axis":null},"x2":{"field":"e"},
    "stroke":{"field":"n","type":"nominal","scale":{"domain":["No GSHP","With GSHP","Space heating","DHW","Cooling","Standby"],"range":["#6e6e6e","#0db050","#d4652b","#ee4126","#0e9ed0","#a95caf"]}}}},
  {"transform":[{"filter":"datum.k==1||datum.k==3"}],"mark":{"type":"rule","strokeWidth":2.5,"strokeDash":[2.5,3]},
   "encoding":{"x":{"field":"h","type":"quantitative","scale":{"domain":[-0.5,23.5],"nice":false,"zero":false},"axis":null},"x2":{"field":"e"},
    "stroke":{"field":"n","type":"nominal","scale":{"domain":["No GSHP","With GSHP","Space heating","DHW","Cooling","Standby"],"range":["#6e6e6e","#0db050","#d4652b","#ee4126","#0e9ed0","#a95caf"]}}}}
 ]},
{"title":"(d)","width":603,"height":196,"data":{"name":"d"},
 "transform":[{"lookup":"s","from":{"data":{"values":[{"s":"N","n":"No GSHP","side":-1},{"s":"G","n":"With GSHP","side":1},{"s":"S","n":"Space heating","side":-1},{"s":"D","n":"DHW","side":1},{"s":"C","n":"Cooling","side":-1},{"s":"B","n":"Standby","side":1}]},"key":"s","fields":["n","side"]}},{"calculate":"datum.h+datum.side*datum.d","as":"e"}],
 "encoding":{"y":{"field":"v","type":"quantitative","title":"Demand [kWh]","scale":{"domain":[0,460],"nice":false,"zero":false},"axis":{"values":[0,100,200,300,400]}}},
 "layer":[
  {"mark":{"type":"area","orient":"horizontal","interpolate":"monotone","stroke":"#9a9a9a","strokeWidth":1.3},
   "encoding":{"x":{"field":"e","type":"quantitative","stack":null,"scale":{"domain":[0.5,12.5],"nice":false,"zero":false},"axis":null},"x2":{"field":"h"},"detail":{"field":"h"},
    "fill":{"field":"n","type":"nominal","scale":{"domain":["No GSHP","With GSHP","Space heating","DHW","Cooling","Standby"],"range":["#a8a8a8","#cbe8d4","#fdd8ae","#f9bab4","#cce9f2","#e7d2e7"]}}}},
  {"transform":[{"filter":"datum.k==2"}],"mark":{"type":"rule","strokeWidth":3},
   "encoding":{"x":{"field":"h","type":"quantitative","scale":{"domain":[0.5,12.5],"nice":false,"zero":false},"axis":null},"x2":{"field":"e"},
    "stroke":{"field":"n","type":"nominal","scale":{"domain":["No GSHP","With GSHP","Space heating","DHW","Cooling","Standby"],"range":["#6e6e6e","#0db050","#d4652b","#ee4126","#0e9ed0","#a95caf"]}}}},
  {"transform":[{"filter":"datum.k==1||datum.k==3"}],"mark":{"type":"rule","strokeWidth":2.5,"strokeDash":[2.5,3]},
   "encoding":{"x":{"field":"h","type":"quantitative","scale":{"domain":[0.5,12.5],"nice":false,"zero":false},"axis":null},"x2":{"field":"e"},
    "stroke":{"field":"n","type":"nominal","scale":{"domain":["No GSHP","With GSHP","Space heating","DHW","Cooling","Standby"],"range":["#6e6e6e","#0db050","#d4652b","#ee4126","#0e9ed0","#a95caf"]}}}}
 ]},
{"title":"(e)","width":606,"height":196,"data":{"name":"e"},
 "transform":[{"lookup":"s","from":{"data":{"values":[{"s":"N","n":"No GSHP","side":-1},{"s":"G","n":"With GSHP","side":1},{"s":"S","n":"Space heating","side":-1},{"s":"D","n":"DHW","side":1},{"s":"C","n":"Cooling","side":-1},{"s":"B","n":"Standby","side":1}]},"key":"s","fields":["n","side"]}},{"calculate":"datum.h+datum.side*datum.d","as":"e"}],
 "encoding":{"y":{"field":"v","type":"quantitative","title":"Demand [kWh]","scale":{"domain":[0,11.15],"nice":false,"zero":false},"axis":{"values":[0,2,4,6,8,10]}}},
 "layer":[
  {"mark":{"type":"area","orient":"horizontal","interpolate":"monotone","stroke":"#9a9a9a","strokeWidth":1.3},
   "encoding":{"x":{"field":"e","type":"quantitative","stack":null,"scale":{"domain":[-0.5,23.5],"nice":false,"zero":false},"title":"Time [hours]","axis":{"values":[0,2,4,6,8,10,12,14,16,18,20,22]}},"x2":{"field":"h"},"detail":{"field":"h"},
    "fill":{"field":"n","type":"nominal","scale":{"domain":["No GSHP","With GSHP","Space heating","DHW","Cooling","Standby"],"range":["#a8a8a8","#cbe8d4","#fdd8ae","#f9bab4","#cce9f2","#e7d2e7"]}}}},
  {"transform":[{"filter":"datum.k==2"}],"mark":{"type":"rule","strokeWidth":3},
   "encoding":{"x":{"field":"h","type":"quantitative","scale":{"domain":[-0.5,23.5],"nice":false,"zero":false},"title":"Time [hours]","axis":{"values":[0,2,4,6,8,10,12,14,16,18,20,22]}},"x2":{"field":"e"},
    "stroke":{"field":"n","type":"nominal","scale":{"domain":["No GSHP","With GSHP","Space heating","DHW","Cooling","Standby"],"range":["#6e6e6e","#0db050","#d4652b","#ee4126","#0e9ed0","#a95caf"]}}}},
  {"transform":[{"filter":"datum.k==1||datum.k==3"}],"mark":{"type":"rule","strokeWidth":2.5,"strokeDash":[2.5,3]},
   "encoding":{"x":{"field":"h","type":"quantitative","scale":{"domain":[-0.5,23.5],"nice":false,"zero":false},"title":"Time [hours]","axis":{"values":[0,2,4,6,8,10,12,14,16,18,20,22]}},"x2":{"field":"e"},
    "stroke":{"field":"n","type":"nominal","scale":{"domain":["No GSHP","With GSHP","Space heating","DHW","Cooling","Standby"],"range":["#6e6e6e","#0db050","#d4652b","#ee4126","#0e9ed0","#a95caf"]}}}}
 ]},
{"title":"(f)","width":603,"height":196,"data":{"name":"f"},
 "transform":[{"lookup":"s","from":{"data":{"values":[{"s":"N","n":"No GSHP","side":-1},{"s":"G","n":"With GSHP","side":1},{"s":"S","n":"Space heating","side":-1},{"s":"D","n":"DHW","side":1},{"s":"C","n":"Cooling","side":-1},{"s":"B","n":"Standby","side":1}]},"key":"s","fields":["n","side"]}},{"calculate":"datum.h+datum.side*datum.d","as":"e"}],
 "encoding":{"y":{"field":"v","type":"quantitative","title":"Demand [kWh]","scale":{"domain":[0,69.5],"nice":false,"zero":false},"axis":{"values":[0,15,30,45,60]}}},
 "layer":[
  {"mark":{"type":"area","orient":"horizontal","interpolate":"monotone","stroke":"#9a9a9a","strokeWidth":1.3},
   "encoding":{"x":{"field":"e","type":"quantitative","stack":null,"scale":{"domain":[0.5,12.5],"nice":false,"zero":false},"title":"Time [months]","axis":{"values":[1,3,5,7,9,11],"labelExpr":"datum.value==1?'Jan.':datum.value==3?'Mar.':datum.value==5?'May':datum.value==7?'July':datum.value==9?'Sept.':'Nov.'"}},"x2":{"field":"h"},"detail":{"field":"h"},
    "fill":{"field":"n","type":"nominal","scale":{"domain":["No GSHP","With GSHP","Space heating","DHW","Cooling","Standby"],"range":["#a8a8a8","#cbe8d4","#fdd8ae","#f9bab4","#cce9f2","#e7d2e7"]}}}},
  {"transform":[{"filter":"datum.k==2"}],"mark":{"type":"rule","strokeWidth":3},
   "encoding":{"x":{"field":"h","type":"quantitative","scale":{"domain":[0.5,12.5],"nice":false,"zero":false},"title":"Time [months]","axis":{"values":[1,3,5,7,9,11],"labelExpr":"datum.value==1?'Jan.':datum.value==3?'Mar.':datum.value==5?'May':datum.value==7?'July':datum.value==9?'Sept.':'Nov.'"}},"x2":{"field":"e"},
    "stroke":{"field":"n","type":"nominal","scale":{"domain":["No GSHP","With GSHP","Space heating","DHW","Cooling","Standby"],"range":["#6e6e6e","#0db050","#d4652b","#ee4126","#0e9ed0","#a95caf"]}}}},
  {"transform":[{"filter":"datum.k==1||datum.k==3"}],"mark":{"type":"rule","strokeWidth":2.5,"strokeDash":[2.5,3]},
   "encoding":{"x":{"field":"h","type":"quantitative","scale":{"domain":[0.5,12.5],"nice":false,"zero":false},"title":"Time [months]","axis":{"values":[1,3,5,7,9,11],"labelExpr":"datum.value==1?'Jan.':datum.value==3?'Mar.':datum.value==5?'May':datum.value==7?'July':datum.value==9?'Sept.':'Nov.'"}},"x2":{"field":"e"},
    "stroke":{"field":"n","type":"nominal","scale":{"domain":["No GSHP","With GSHP","Space heating","DHW","Cooling","Standby"],"range":["#6e6e6e","#0db050","#d4652b","#ee4126","#0e9ed0","#a95caf"]}}}}
 ]}
]
}
